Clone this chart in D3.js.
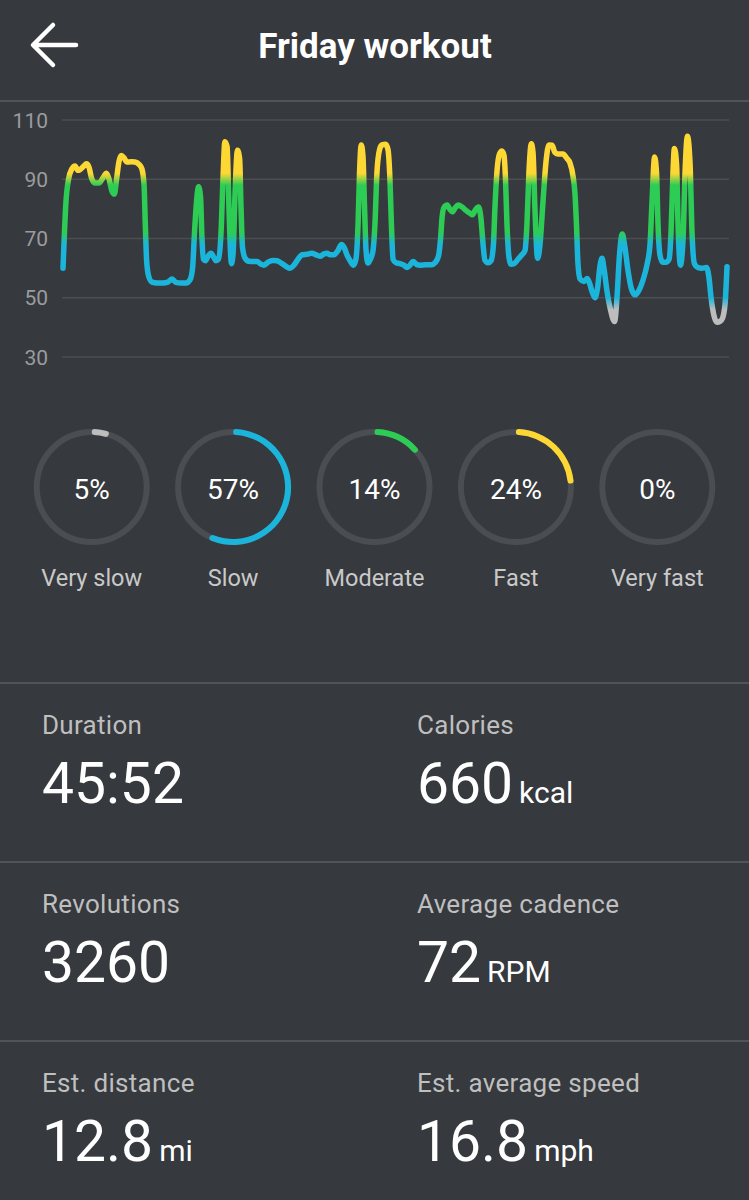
<!DOCTYPE html>
<html>
<head>
<meta charset="utf-8">
<script src="https://cdn.jsdelivr.net/npm/d3@7"></script>
<style>
  html, body { margin: 0; padding: 0; background: #36393d; }
  body { width: 749px; height: 1200px; overflow: hidden; font-family: Roboto, "Noto Sans", sans-serif; }
</style>
</head>
<body>
<div id="screen"></div>
<script>
// Cadence over the workout (seconds elapsed, RPM)
const times = [0,6,12,23,37,50,62,70,87,97,108,118,133,149,166,180,191,203,213,222,232,242,253,265,282,298,315,327,336,341,347,356,369,390,414,435,452,468,489,510,526,537,545,553,562,570,576,582,591,601,613,626,634,644,655,663,671,680,688,698,705,713,723,732,738,744,754,771,787,804,821,833,850,870,887,908,928,941,957,974,991,1011,1031,1049,1065,1082,1094,1107,1123,1140,1154,1165,1177,1190,1204,1214,1223,1229,1236,1243,1250,1256,1264,1274,1285,1293,1301,1312,1322,1337,1347,1355,1361,1368,1380,1397,1413,1426,1438,1451,1467,1480,1504,1527,1542,1556,1565,1571,1579,1592,1604,1614,1625,1638,1654,1670,1687,1697,1708,1722,1732,1741,1749,1761,1774,1784,1790,1799,1809,1819,1828,1834,1840,1848,1857,1869,1886,1902,1915,1923,1931,1941,1948,1956,1967,1977,1989,2002,2014,2027,2039,2052,2072,2089,2101,2114,2122,2128,2134,2143,2159,2172,2182,2193,2205,2215,2226,2234,2242,2255,2269,2286,2296,2306,2318,2329,2342,2356,2371,2387,2404,2420,2433,2441,2452,2460,2466,2474,2485,2499,2512,2520,2528,2534,2543,2549,2559,2570,2578,2588,2599,2607,2617,2632,2648,2667,2677,2686,2698,2711,2723,2733,2744,2752];
const cadence = [60,72,82,90,93.5,94.5,93,93.2,94.5,95.2,94,90.5,88.7,88.7,90.5,92,90,86,85,90,96,98,97.2,95.8,95.9,95.8,95,93.5,88,75,62,57,55.3,55,55,55.3,56.3,55.2,55,55,56,60,72,82,87.5,84,70,63,62.5,64,65,63.5,62.5,63,72,90,102.7,101,80,61.5,65,85,99.8,97,80,67,63.5,62.3,62.2,62.2,61.3,61,62,62.6,62.5,61.5,60.4,60,61,63,64.5,64.7,65,64.5,64,64.8,65,64.5,64.5,66,68,67,64.5,62.5,61,63,75,92,101.6,98,80,66,61.7,63,66,75,92,100,101.6,101.8,100,90,75,63,61.8,61.5,61,60.2,61,62.2,61.2,61,61.1,61.1,61.8,64,70,77,80.5,81.3,79.8,79,80.3,81.3,80.6,79.5,78.5,78,79.5,80.6,77,68,62.6,61.8,62.5,68,80,93,98.5,99.5,98,90,75,64,61.3,61.5,63,64.5,66,75,92,102,99,80,63.3,68,82,96,101.6,101.5,99,98.5,98.5,97,95.5,91,85,75,62,56.3,55.5,56.5,55,52,50,53,61,63.3,60,52,46,42,50,64,71.5,67,59,53,51,52.5,56,61,68,82,97.5,92,75,64.5,62,62,63,72,92,100.4,95,75,61,70,92,104.5,95,72,61.5,60.2,60,60.2,57,50,44,41.7,42,43,48,60.5];
const yTicks = [30, 50, 70, 90, 110];

// Zones
const zoneLabels = ["Very slow", "Slow", "Moderate", "Fast", "Very fast"];
const zonePercents = [5, 57, 14, 24, 0];
const zoneColors = ["#bdbdbd", "#1bb5dc", "#2dcc55", "#fdd835", "#e53935"];

// Summary
const statLabels = ["Duration", "Calories", "Revolutions", "Average cadence", "Est. distance", "Est. average speed"];
const statValues = ["45:52", "660", "3260", "72", "12.8", "16.8"];
const statUnits = ["", "kcal", "", "RPM", "mi", "mph"];

const W = 749, H = 1200;
const bg = "#36393d";
const divider = "#505357";

const svg = d3.select("#screen").append("svg")
  .attr("width", W).attr("height", H)
  .style("display", "block");

svg.append("rect").attr("width", W).attr("height", H).attr("fill", bg);

// ===== Header =====
svg.append("path")
  .attr("d", "M76,45 L34,45 M53,25 L33,45 L53,65")
  .attr("fill", "none").attr("stroke", "#fff")
  .attr("stroke-width", 4.5).attr("stroke-linecap", "round").attr("stroke-linejoin", "round");

svg.append("text")
  .attr("x", 375).attr("y", 58)
  .attr("text-anchor", "middle")
  .attr("fill", "#fff")
  .style("font-size", "35px").style("font-weight", 700)
  .text("Friday workout");

svg.append("line").attr("x1", 0).attr("x2", W).attr("y1", 101).attr("y2", 101)
  .attr("stroke", divider).attr("stroke-width", 2);

// ===== Cadence chart =====
const x = d3.scaleLinear().domain([0, 2752]).range([63, 727]);
const y = d3.scaleLinear().domain([30, 110]).range([357, 120]);

const grid = svg.append("g");
grid.selectAll("line").data(yTicks).enter().append("line")
  .attr("x1", 62).attr("x2", 729)
  .attr("y1", (d) => y(d)).attr("y2", (d) => y(d))
  .attr("stroke", "#4b4e52").attr("stroke-width", 1.5);

grid.selectAll("text").data(yTicks).enter().append("text")
  .attr("x", 48).attr("y", (d) => y(d))
  .attr("dy", "0.36em")
  .attr("text-anchor", "end")
  .attr("fill", "#9a9c9f")
  .style("font-size", "21px")
  .text((d) => d);

// vertical colour gradient following the cadence zones
const defs = svg.append("defs");
const grad = defs.append("linearGradient")
  .attr("id", "zoneGrad")
  .attr("gradientUnits", "userSpaceOnUse")
  .attr("x1", 0).attr("x2", 0)
  .attr("y1", y(110)).attr("y2", y(30));
const gradStops = [
  [110, "#fdd835"], [92, "#fdd835"], [88, "#2dcc55"], [72, "#2dcc55"],
  [68, "#1bb5dc"], [50, "#1bb5dc"], [46, "#bdbdbd"], [30, "#bdbdbd"]
];
grad.selectAll("stop").data(gradStops).enter().append("stop")
  .attr("offset", (d) => (y(d[0]) - y(110)) / (y(30) - y(110)))
  .attr("stop-color", (d) => d[1]);

const points = d3.zip(times, cadence);
const line = d3.line()
  .x((d) => x(d[0]))
  .y((d) => y(d[1]))
  .curve(d3.curveMonotoneX);

svg.append("path")
  .datum(points)
  .attr("d", line)
  .attr("fill", "none")
  .attr("stroke", "url(#zoneGrad)")
  .attr("stroke-width", 5.5)
  .attr("stroke-linejoin", "round")
  .attr("stroke-linecap", "round");

// ===== Zone rings =====
const ringX = d3.scalePoint().domain(zoneLabels).range([91.7, 657.3]);
const ringY = 487;
const arc = d3.arc().innerRadius(52).outerRadius(58).cornerRadius(3).startAngle(0);

const rings = svg.selectAll(".ring").data(zoneLabels).enter().append("g")
  .attr("class", "ring")
  .attr("transform", (d) => `translate(${ringX(d)},${ringY})`);

rings.append("circle")
  .attr("r", 55)
  .attr("fill", "none")
  .attr("stroke", "#4a4d51")
  .attr("stroke-width", 6);

rings.append("path")
  .attr("d", (d, i) => zonePercents[i] > 0 ? arc({ endAngle: 2 * Math.PI * zonePercents[i] / 100 }) : null)
  .attr("fill", (d, i) => zoneColors[i]);

rings.append("text")
  .attr("y", 2).attr("dy", "0.36em")
  .attr("text-anchor", "middle")
  .attr("fill", "#fff")
  .style("font-size", "28px")
  .text((d, i) => zonePercents[i] + "%");

rings.append("text")
  .attr("y", 99)
  .attr("text-anchor", "middle")
  .attr("fill", "#c9c9c9")
  .style("font-size", "23.5px")
  .text((d) => d);

// ===== Summary grid =====
const rowTop = [683, 862, 1041];
rowTop.forEach((ry) => {
  svg.append("line").attr("x1", 0).attr("x2", W).attr("y1", ry).attr("y2", ry)
    .attr("stroke", divider).attr("stroke-width", 2);
});

const colX = [42, 417];
statLabels.forEach((lab, i) => {
  const cx = colX[i % 2];
  const ry = rowTop[Math.floor(i / 2)];
  svg.append("text")
    .attr("x", cx).attr("y", ry + 51)
    .attr("fill", "#bfbfbf")
    .style("font-size", "26px")
    .style("letter-spacing", "0.3px")
    .text(lab);
  const val = svg.append("text")
    .attr("x", cx).attr("y", ry + 120)
    .attr("fill", "#fff")
    .style("font-size", "57px");
  val.append("tspan").text(statValues[i]);
  if (statUnits[i]) {
    val.append("tspan")
      .attr("dx", 6)
      .style("font-size", "30px")
      .text(statUnits[i]);
  }
});
</script>
</body>
</html>
